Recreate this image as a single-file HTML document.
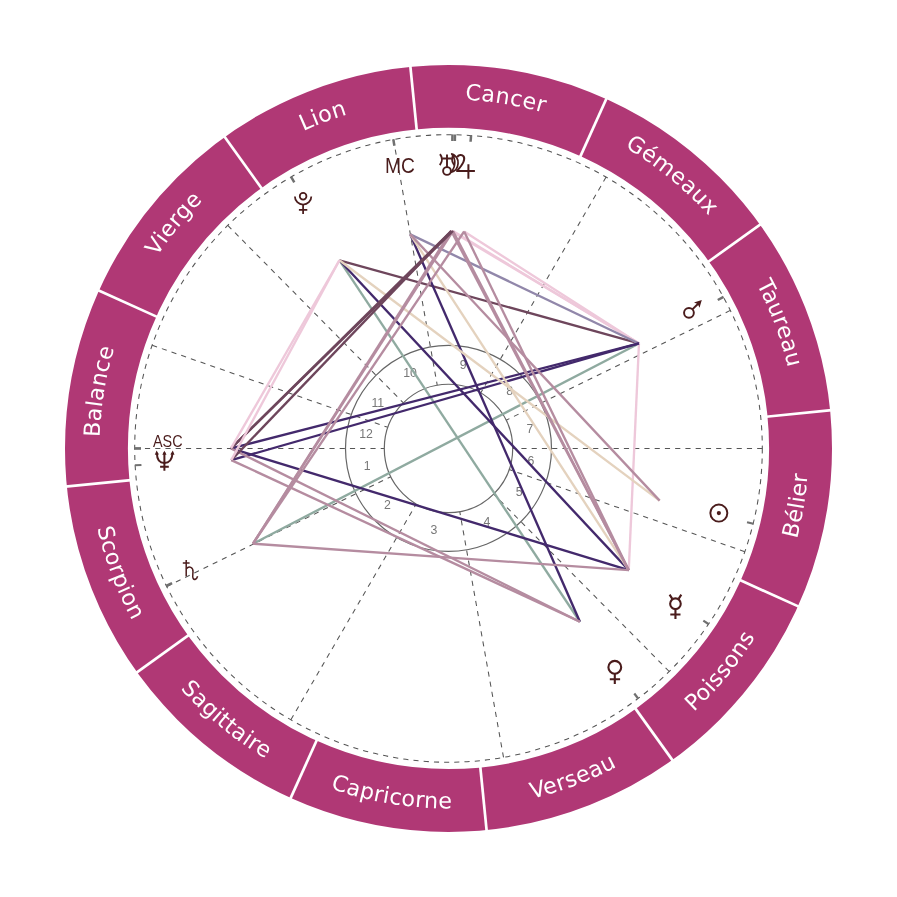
<!DOCTYPE html>
<html lang="fr"><head><meta charset="utf-8"><title>Carte du ciel</title>
<style>html,body{margin:0;padding:0;background:#fff}body{width:897px;height:897px;overflow:hidden}svg{display:block}.sg{font-family:"DejaVu Sans","Liberation Sans",sans-serif;font-size:22.2px;fill:#fff;text-anchor:middle}.hn{font-family:"Liberation Sans",sans-serif;font-size:12.3px;fill:#777;text-anchor:middle}.ax{font-family:"Liberation Sans",sans-serif;fill:#4a1c1c;text-anchor:middle}</style></head><body>
<svg role="img" aria-label="Carte du ciel" width="897" height="897" viewBox="0 0 897 897">
<rect width="897" height="897" fill="#fff"/>
<circle cx="448.5" cy="448.45" r="352.05" fill="none" stroke="#b03875" stroke-width="62.90"/>
<g stroke="#fff" stroke-width="2.7">
<line x1="766.02" y1="416.76" x2="831.60" y2="410.21"/>
<line x1="707.64" y1="262.24" x2="761.15" y2="223.79"/>
<line x1="579.81" y1="157.62" x2="606.93" y2="97.56"/>
<line x1="416.81" y1="130.93" x2="410.26" y2="65.35"/>
<line x1="262.29" y1="189.31" x2="223.84" y2="135.80"/>
<line x1="157.67" y1="317.14" x2="97.61" y2="290.02"/>
<line x1="130.98" y1="480.14" x2="65.40" y2="486.69"/>
<line x1="189.36" y1="634.66" x2="135.85" y2="673.11"/>
<line x1="317.19" y1="739.28" x2="290.07" y2="799.34"/>
<line x1="480.19" y1="765.97" x2="486.74" y2="831.55"/>
<line x1="634.71" y1="707.59" x2="673.16" y2="761.10"/>
<line x1="739.33" y1="579.76" x2="799.39" y2="606.88"/>
</g>
<text class="sg" id="s0" style="text-anchor:start" x="756.43 761.14 767.10 772.68 775.95 780.54 784.59" y="284.12 293.20 305.83 319.13 327.51 340.75 354.12" rotate="62.75 64.74 67.07 68.99 70.88 73.17 75.50">Taureau</text>
<text class="sg" id="s1" style="text-anchor:start" x="624.73 639.63 651.27 668.69 679.39 689.68 699.89" y="147.09 156.36 164.19 177.59 186.65 196.09 206.28" rotate="31.76 34.35 37.30 40.26 42.55 44.88 47.18">Gémeaux</text>
<text class="sg" id="s2" style="text-anchor:start" x="464.99 480.81 494.68 508.94 521.27 534.92" y="99.75 100.88 102.45 104.67 107.05 110.29" rotate="4.01 6.45 8.78 11.00 13.18 15.11">Cancer</text>
<text class="sg" id="s3" style="text-anchor:start" x="303.16 314.83 320.86 333.93" y="131.10 126.05 123.56 118.71" rotate="-23.57 -21.99 -20.31 -17.98">Lion</text>
<text class="sg" id="s4" style="text-anchor:start" x="156.72 165.31 169.13 177.79 183.59 193.22" y="256.82 244.45 239.17 228.14 221.13 210.37" rotate="-55.47 -53.70 -52.01 -50.12 -48.18 -45.85">Vierge</text>
<text class="sg" id="s5" style="text-anchor:start" x="99.59 100.46 101.85 102.62 104.77 107.60 110.51" y="437.31 421.75 407.86 401.39 387.59 373.45 361.22" rotate="-86.89 -84.47 -82.79 -81.11 -78.78 -76.56 -74.38">Balance</text>
<text class="sg" id="s6" style="text-anchor:start" x="97.33 100.81 104.28 108.66 111.87 117.32 119.88 125.82" y="527.99 542.00 554.09 567.32 576.25 589.62 595.62 608.23" rotate="76.09 73.94 71.83 69.97 68.06 66.40 64.77 62.51">Scorpion</text>
<text class="sg" id="s7" style="text-anchor:start" x="180.37 190.22 200.14 210.83 215.76 222.75 229.86 241.14 246.50 253.98" y="688.78 699.33 709.16 718.87 723.14 728.91 734.54 742.75 746.47 751.45" rotate="46.98 44.72 42.46 40.79 39.55 38.11 36.28 34.65 33.41 31.58">Sagittaire</text>
<text class="sg" id="s8" style="text-anchor:start" x="330.13 345.22 358.66 372.73 382.03 388.44 400.87 414.73 423.79 438.21" y="788.53 793.39 797.14 800.42 802.28 803.46 805.36 806.89 807.68 808.37" rotate="17.93 15.56 13.30 11.39 10.12 8.60 6.49 4.66 2.79 0.52">Capricorne</text>
<text class="sg" id="s9" style="text-anchor:start" x="531.99 545.37 558.78 567.78 578.98 591.94 604.64" y="798.70 795.24 791.17 788.16 784.04 778.71 772.90" rotate="-14.50 -16.72 -18.59 -20.29 -22.36 -24.59 -26.84">Verseau</text>
<text class="sg" id="s10" style="text-anchor:start" x="693.77 703.10 712.73 717.14 724.93 732.44 740.80 748.97" y="712.05 703.06 692.98 688.18 679.15 669.88 658.72 646.83" rotate="-43.97 -46.11 -47.74 -49.21 -51.10 -53.16 -55.42 -57.52">Poissons</text>
<text class="sg" id="s11" style="text-anchor:start" x="797.02 800.59 803.21 804.27 805.26 806.85" y="538.99 523.83 510.05 503.62 497.17 483.24" rotate="-76.68 -79.03 -80.67 -81.71 -83.34 -85.21">Bélier</text>
<circle cx="448.5" cy="448.45" r="313.8" stroke="#555" stroke-width="1.05" stroke-dasharray="5.15 5.1" fill="none"/>
<g stroke="#555" stroke-width="1.05" stroke-dasharray="5.15 5.1" fill="none">
<line x1="134.70" y1="448.45" x2="384.30" y2="448.45"/>
<line x1="166.70" y1="586.50" x2="390.85" y2="476.69"/>
<line x1="290.89" y1="719.80" x2="416.25" y2="503.96"/>
<line x1="503.53" y1="757.39" x2="459.76" y2="511.66"/>
<line x1="669.23" y1="671.50" x2="493.66" y2="494.08"/>
<line x1="744.85" y1="551.65" x2="509.13" y2="469.56"/>
<line x1="762.30" y1="448.45" x2="512.70" y2="448.45"/>
<line x1="730.30" y1="310.40" x2="506.15" y2="420.21"/>
<line x1="606.11" y1="177.10" x2="480.75" y2="392.94"/>
<line x1="393.47" y1="139.51" x2="437.24" y2="385.24"/>
<line x1="227.77" y1="225.40" x2="403.34" y2="402.82"/>
<line x1="152.15" y1="345.25" x2="387.87" y2="427.34"/>
</g>
<circle cx="448.5" cy="448.45" r="103.0" fill="none" stroke="#666" stroke-width="1.2"/>
<circle cx="448.5" cy="448.45" r="64.2" fill="none" stroke="#666" stroke-width="1.2"/>
<text class="hn" x="367.06" y="470.43">1</text>
<text class="hn" x="387.33" y="508.54">2</text>
<text class="hn" x="433.95" y="533.87">3</text>
<text class="hn" x="486.97" y="525.77">4</text>
<text class="hn" x="519.20" y="496.16">5</text>
<text class="hn" x="530.93" y="465.49">6</text>
<text class="hn" x="529.94" y="432.67">7</text>
<text class="hn" x="509.67" y="394.56">8</text>
<text class="hn" x="463.05" y="369.23">9</text>
<text class="hn" x="410.03" y="377.33">10</text>
<text class="hn" x="377.80" y="406.94">11</text>
<text class="hn" x="366.07" y="437.61">12</text>
<g stroke="#707070" fill="none">
<line x1="134.40" y1="448.45" x2="141.00" y2="448.45" stroke-width="2.7"/>
<line x1="134.85" y1="465.27" x2="141.44" y2="464.92" stroke-width="2.0"/>
<line x1="166.14" y1="586.04" x2="172.07" y2="583.15" stroke-width="2.6"/>
<line x1="290.98" y1="176.71" x2="294.29" y2="182.42" stroke-width="2.5"/>
<line x1="393.26" y1="139.25" x2="394.42" y2="145.74" stroke-width="2.5"/>
<line x1="452.45" y1="134.37" x2="452.36" y2="140.97" stroke-width="2.5"/>
<line x1="454.97" y1="134.42" x2="454.83" y2="141.02" stroke-width="2.5"/>
<line x1="471.07" y1="135.16" x2="470.59" y2="141.74" stroke-width="2.5"/>
<line x1="723.56" y1="296.80" x2="717.78" y2="299.98" stroke-width="2.5"/>
<line x1="753.43" y1="523.80" x2="747.02" y2="522.22" stroke-width="2.2"/>
<line x1="708.81" y1="624.23" x2="703.34" y2="620.54" stroke-width="2.2"/>
<line x1="638.27" y1="698.74" x2="634.29" y2="693.48" stroke-width="2.2"/>
</g>
<g fill="none" stroke-linecap="butt">
<line x1="638.97" y1="343.44" x2="252.98" y2="543.73" stroke="#8faaa0" stroke-width="2.35"/>
<line x1="579.91" y1="621.76" x2="339.42" y2="260.28" stroke="#8faaa0" stroke-width="2.35"/>
<line x1="638.97" y1="343.44" x2="339.42" y2="260.28" stroke="#6e465c" stroke-width="2.35"/>
<line x1="452.98" y1="231.00" x2="638.97" y2="343.44" stroke="#eec8da" stroke-width="2.35"/>
<line x1="628.75" y1="570.17" x2="638.97" y2="343.44" stroke="#eec8da" stroke-width="2.35"/>
<line x1="638.97" y1="343.44" x2="464.13" y2="231.51" stroke="#eec8da" stroke-width="2.35"/>
<line x1="638.97" y1="343.44" x2="451.23" y2="230.97" stroke="#eec8da" stroke-width="2.35"/>
<line x1="638.97" y1="343.44" x2="410.25" y2="234.34" stroke="#9187aa" stroke-width="2.35"/>
<line x1="628.75" y1="570.17" x2="339.42" y2="260.28" stroke="#43296c" stroke-width="2.35"/>
<line x1="628.75" y1="570.17" x2="231.00" y2="448.45" stroke="#43296c" stroke-width="2.35"/>
<line x1="579.91" y1="621.76" x2="410.25" y2="234.34" stroke="#43296c" stroke-width="2.35"/>
<line x1="638.97" y1="343.44" x2="231.31" y2="460.10" stroke="#43296c" stroke-width="2.35"/>
<line x1="638.97" y1="343.44" x2="231.00" y2="448.45" stroke="#43296c" stroke-width="2.35"/>
<line x1="659.65" y1="500.63" x2="339.42" y2="260.28" stroke="#e4d2be" stroke-width="2.35"/>
<line x1="628.75" y1="570.17" x2="410.25" y2="234.34" stroke="#e4d2be" stroke-width="2.35"/>
<line x1="452.98" y1="231.00" x2="628.75" y2="570.17" stroke="#b58ca0" stroke-width="2.35"/>
<line x1="628.75" y1="570.17" x2="464.13" y2="231.51" stroke="#b58ca0" stroke-width="2.35"/>
<line x1="628.75" y1="570.17" x2="252.98" y2="543.73" stroke="#b58ca0" stroke-width="2.35"/>
<line x1="628.75" y1="570.17" x2="451.23" y2="230.97" stroke="#b58ca0" stroke-width="2.35"/>
<line x1="452.98" y1="231.00" x2="252.98" y2="543.73" stroke="#b58ca0" stroke-width="2.35"/>
<line x1="464.13" y1="231.51" x2="252.98" y2="543.73" stroke="#b58ca0" stroke-width="2.35"/>
<line x1="252.98" y1="543.73" x2="451.23" y2="230.97" stroke="#b58ca0" stroke-width="2.35"/>
<line x1="579.91" y1="621.76" x2="231.31" y2="460.10" stroke="#b58ca0" stroke-width="2.35"/>
<line x1="579.91" y1="621.76" x2="231.00" y2="448.45" stroke="#b58ca0" stroke-width="2.35"/>
<line x1="659.65" y1="500.63" x2="410.25" y2="234.34" stroke="#b58ca0" stroke-width="2.35"/>
<line x1="452.98" y1="231.00" x2="231.00" y2="448.45" stroke="#6e465c" stroke-width="2.35"/>
<line x1="451.23" y1="230.97" x2="231.31" y2="460.10" stroke="#6e465c" stroke-width="2.35"/>
<line x1="451.23" y1="230.97" x2="231.00" y2="448.45" stroke="#6e465c" stroke-width="2.35"/>
<line x1="231.31" y1="460.10" x2="339.42" y2="260.28" stroke="#eec8da" stroke-width="2.35"/>
<line x1="339.42" y1="260.28" x2="231.00" y2="448.45" stroke="#eec8da" stroke-width="2.35"/>
</g>
<g fill="none" stroke="#4a1c1c" stroke-linecap="butt" stroke-linejoin="round">
<g id="gPLU" stroke-width="1.75"><title>Pluton</title><circle cx="303.1" cy="196.2" r="3.35"/><path d="M294.9 196.4 A8.2 8.2 0 0 0 311.3 196.4"/><path d="M303.1 204.3 V214 M298.9 209.8 H307.3"/></g>
<g id="gSUN" stroke-width="1.95"><title>Soleil</title><circle cx="718.85" cy="513.1" r="8.5"/><circle cx="718.85" cy="513.1" r="2.1" fill="#4a1c1c" stroke="none"/></g>
<g id="gMER" stroke-width="2.1"><title>Mercure</title><circle cx="675.45" cy="603.7" r="5.3"/><path d="M672.3 598.9 L669.6 594.6 M678.6 598.9 L681.3 594.6 M675.45 609 V619 M670.3 614.5 H680.5"/></g>
<g id="gVEN" stroke-width="2.1"><title>Vénus</title><circle cx="614.8" cy="667.3" r="6.4"/><path d="M614.8 673.7 V684 M609.8 679.3 H620.1"/></g>
<g id="gMAR" stroke-width="1.95"><title>Mars</title><circle cx="688.95" cy="312.85" r="4.9"/><path d="M692.4 309.4 L698.6 303.2"/><path d="M701.8 300 L694 302.5 L697.7 304.1 L699.5 307.8 Z" fill="#4a1c1c" stroke="none"/></g>
<g id="gSAT" stroke-width="1.5"><title>Saturne</title><path d="M186.2 560 V576.2 M182.8 563.1 H189.6"/><path d="M186.3 568.9 C187.5 567.4 189.4 566.8 190.8 567.4 C192.6 568.2 193.1 569.8 193 571.8 C192.9 574 192.2 577 193.2 578.5 C194.3 580.1 196.6 579.5 197.6 576.2"/></g>
<g id="gNEP" stroke-width="2"><title>Neptune</title><path d="M164.4 452.5 V470.8 M160.1 466.8 H168.8"/><path d="M156.9 453.5 C157 460 160 462.9 164.4 462.9 C168.8 462.9 172 460 172.5 453.5"/><path d="M154.8 454.8 L156.6 450.6 L159 454.4 Z M162.3 454.8 L164.4 450.8 L166.5 454.8 Z M170.3 454.4 L172.8 450.6 L174.5 454.8 Z" fill="#4a1c1c" stroke="none"/></g>
<g id="gURA" stroke-width="1.9"><title>Uranus</title><circle cx="447" cy="171" r="3.9"/><path d="M447 154.6 V167 M442.2 158.5 H451.8"/><path d="M440 154.2 C442.6 157.5 442.6 161.5 439.8 165.1 M454 154.2 C451.4 157.5 451.4 161.5 454.2 165.1"/></g>
<g id="gMOO" stroke-width="1.7"><title>Lune</title><path d="M451.7 153.9 A9.7 9.7 0 0 1 450.8 172.4 A14 14 0 0 0 451.7 153.9 Z"/></g>
<g id="gJUP" stroke-width="2"><title>Jupiter</title><path d="M457.3 157 C458.4 154.6 462 154.1 463.6 156.4 C465.6 159.5 462.5 165 457 170.9 H474.9 M468.4 164.2 V178.7"/></g>
</g>
<text class="ax" id="tASC" font-size="16.5" x="167.75" y="446.8" textLength="29.6" lengthAdjust="spacingAndGlyphs">ASC</text>
<text class="ax" id="tMC" font-size="22" x="400.05" y="172.7" textLength="29.9" lengthAdjust="spacingAndGlyphs">MC</text>
</svg></body></html>
